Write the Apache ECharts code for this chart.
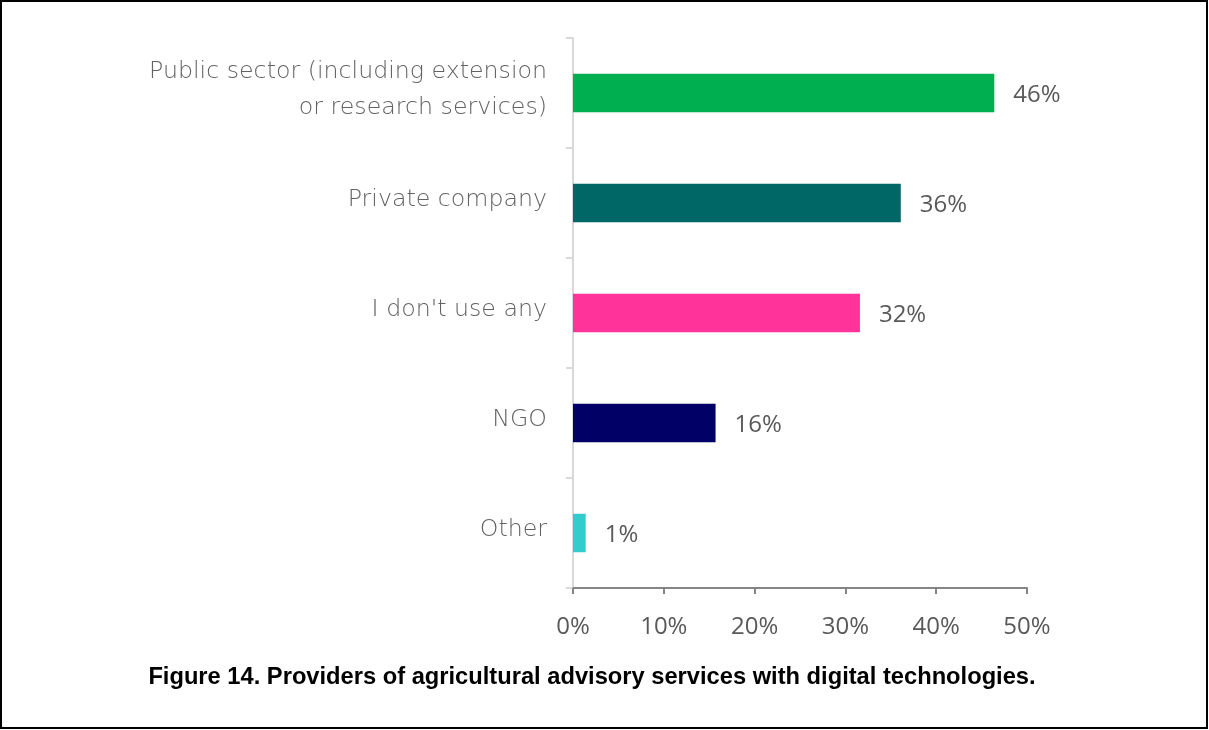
<!DOCTYPE html>
<html>
<head>
<meta charset="utf-8">
<script src="https://cdn.jsdelivr.net/npm/echarts@6/dist/echarts.min.js"></script>
<style>
  html, body { margin: 0; padding: 0; background: #fff; }
  #chart { width: 1209px; height: 730px; }
</style>
</head>
<body>
<div id="chart"></div>
<script>
// Survey categories, top to bottom
const categories = [
  'Public sector (including extension\nor research services)',
  'Private company',
  "I don't use any",
  'NGO',
  'Other'
];
// Share of respondents (%)
const shares = [46.4, 36.1, 31.6, 15.7, 1.4];
const barColors = ['#00b050', '#006666', '#ff3399', '#000066', '#33cccc'];
const xTicks = [0, 10, 20, 30, 40, 50];
const caption = 'Figure 14. Providers of agricultural advisory services with digital technologies.';

const chart = echarts.init(document.getElementById('chart'), null, { renderer: 'canvas' });

chart.setOption({
  animation: false,
  backgroundColor: '#ffffff',
  grid: { left: 573, right: 182, top: 38, bottom: 142, containLabel: false },
  xAxis: {
    type: 'value',
    min: xTicks[0],
    max: xTicks[xTicks.length - 1],
    interval: xTicks[1] - xTicks[0],
    splitLine: { show: false },
    axisLine: { show: true, lineStyle: { color: '#858585', width: 2 } },
    axisTick: { show: true, length: 6, lineStyle: { color: '#858585', width: 2 } },
    axisLabel: {
      formatter: '{value}%',
      color: '#595959',
      fontFamily: 'Open Sans',
      fontSize: 24,
      margin: 27
    }
  },
  yAxis: {
    type: 'category',
    inverse: true,
    data: categories,
    axisLine: { show: true, lineStyle: { color: '#d9d9d9', width: 2 } },
    axisTick: { show: true, length: 7, lineStyle: { color: '#d9d9d9', width: 2 } },
    axisLabel: {
      align: 'right',
      margin: 26,
      // a transparent spacer line below lifts the text slightly above the band centre
      formatter: v => v.split('\n').map(s => '{t|' + s + '}').join('\n') + '\n{s| }',
      rich: {
        t: {
          color: '#626262',
          fontFamily: 'DejaVu Sans',
          fontWeight: 200,
          fontSize: 23.7,
          lineHeight: 36,
          align: 'right'
        },
        s: { fontSize: 1, lineHeight: 6 }
      }
    }
  },
  series: [{
    type: 'bar',
    data: shares.map((v, i) => ({ value: v, itemStyle: { color: barColors[i] } })),
    barWidth: '35%',
    label: {
      show: true,
      position: 'right',
      distance: 19,
      offset: [0, 2],
      color: '#595959',
      fontFamily: 'Open Sans',
      fontSize: 24,
      formatter: p => Math.round(p.value) + '%'
    }
  }],
  graphic: [
    {
      type: 'rect',
      shape: { x: 1, y: 1, width: 1206, height: 727 },
      style: { fill: 'none', stroke: '#000', lineWidth: 2 },
      silent: true
    },
    {
      type: 'text',
      x: 592,
      y: 677,
      style: {
        text: caption,
        fill: '#000',
        align: 'center',
        verticalAlign: 'middle',
        font: 'bold 23.7px "Liberation Sans Narrow", sans-serif'
      }
    }
  ]
});
</script>
</body>
</html>
